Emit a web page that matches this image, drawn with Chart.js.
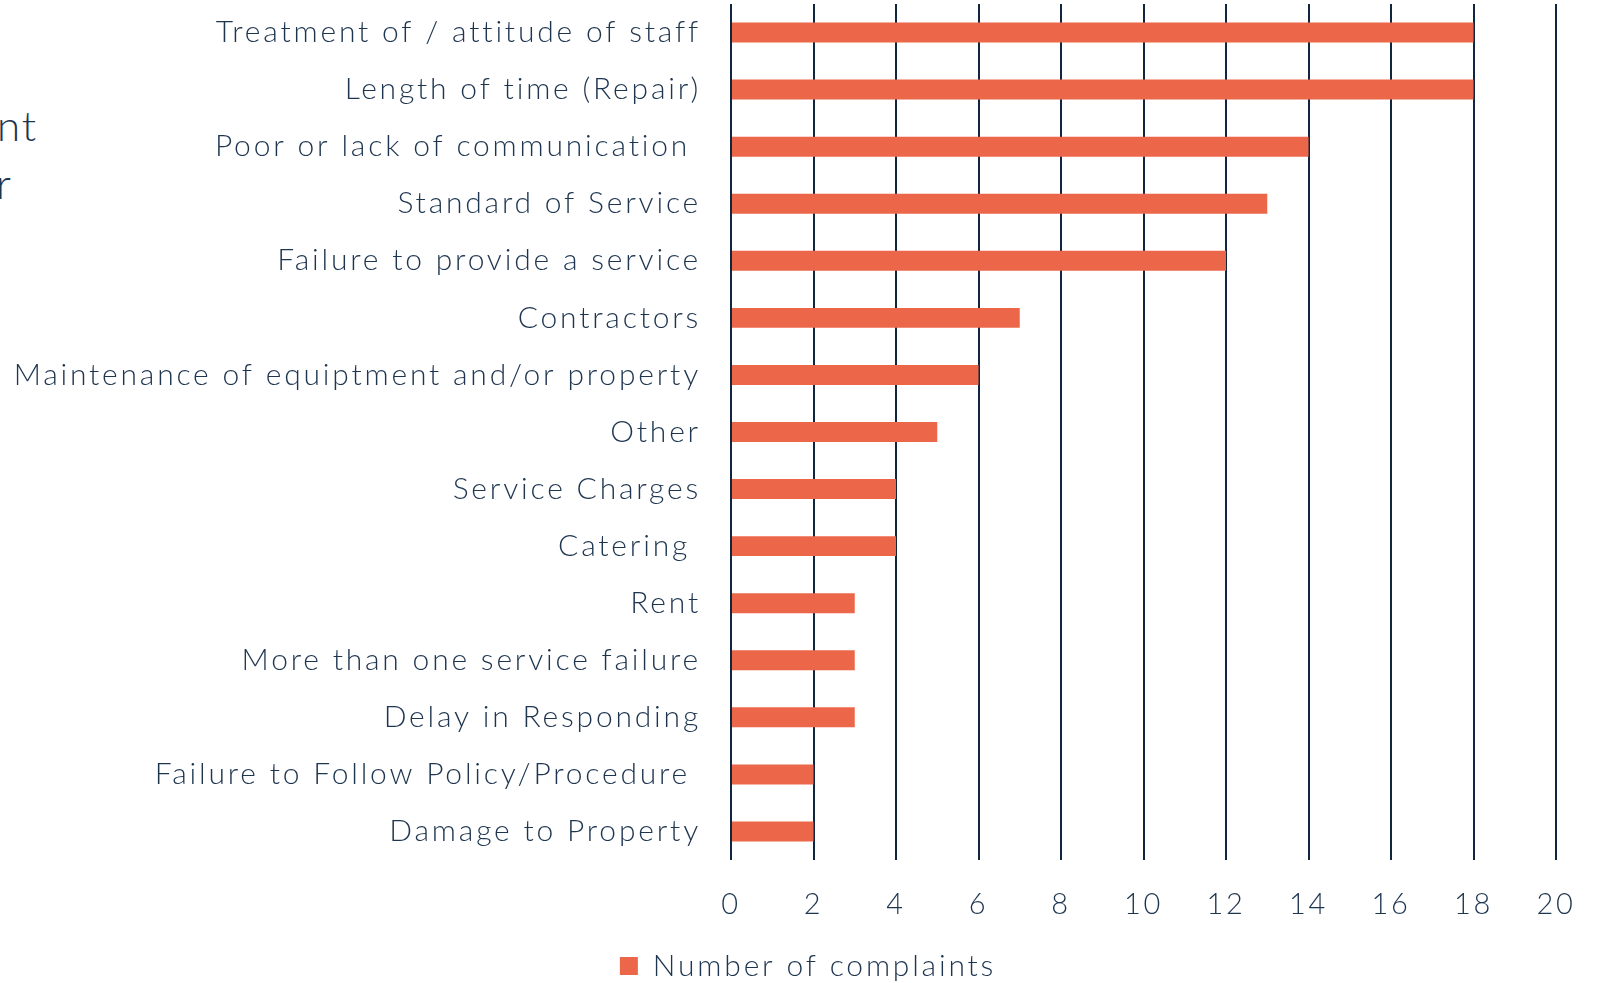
<!DOCTYPE html>
<html>
<head>
<meta charset="utf-8">
<script src="https://cdn.jsdelivr.net/npm/chart.js@4.4.0/dist/chart.umd.min.js"></script>
<style>
  html, body { margin: 0; padding: 0; background: #ffffff; overflow: hidden; }
  #wrap { position: relative; width: 1601px; height: 983px; }
  canvas { position: absolute; left: 0; top: 0; }
  .frag { position: absolute; font-family: Lato, sans-serif; font-weight: 300; font-size: 42px; color: #1e3550; white-space: nowrap; line-height: 1; letter-spacing: 2px; }
</style>
</head>
<body>
<div id="wrap">
  <div class="frag" style="left:-3px; top:104px;">nt</div>
  <div class="frag" style="left:-4px; top:162px;">r</div>
  <canvas id="c" width="1601" height="983"></canvas>
</div>
<script>
const categories = [
  "Treatment of / attitude of staff",
  "Length of time (Repair)",
  "Poor or lack of communication ",
  "Standard of Service",
  "Failure to provide a service",
  "Contractors",
  "Maintenance of equiptment and/or property",
  "Other",
  "Service Charges",
  "Catering ",
  "Rent",
  "More than one service failure",
  "Delay in Responding",
  "Failure to Follow Policy/Procedure ",
  "Damage to Property"
];
const complaints = [18, 18, 14, 13, 12, 7, 6, 5, 4, 4, 3, 3, 3, 2, 2];
const xTicks = [0, 2, 4, 6, 8, 10, 12, 14, 16, 18, 20];
const seriesName = "Number of complaints";

const NAVY = "#1e3550";
const GRID = "#0f2540";
const BAR = "#ec6649";
const FONT = "Lato, sans-serif";
const SPACING = "2.8px";

const spacingPlugin = {
  id: "spacing",
  beforeUpdate(chart) { chart.ctx.letterSpacing = SPACING; },
  beforeLayout(chart) { chart.ctx.letterSpacing = SPACING; },
  afterLayout(chart) {
    const lg = chart.legend;
    if (lg) { lg.left += 30; lg.right += 30; lg.top += 8; lg.bottom += 8; }
  },
  beforeDraw(chart) { chart.ctx.letterSpacing = SPACING; }
};

new Chart(document.getElementById("c"), {
  type: "bar",
  plugins: [spacingPlugin],
  data: {
    labels: categories,
    datasets: [{
      label: seriesName,
      data: complaints,
      backgroundColor: BAR,
      borderWidth: 0,
      barPercentage: 0.7,
      categoryPercentage: 0.5
    }]
  },
  options: {
    indexAxis: "y",
    responsive: false,
    animation: false,
    layout: { padding: { top: 4, right: 45, left: 0, bottom: 0 } },
    scales: {
      x: {
        min: 0, max: 20,
        afterBuildTicks: (s) => { s.ticks = xTicks.map(v => ({ value: v })); },
        grid: { color: GRID, lineWidth: 2, drawTicks: false },
        border: { display: false },
        ticks: { color: NAVY, font: { family: FONT, size: 29, weight: 300 }, padding: 27 },
        afterFit: (s) => { s.height = 73; s.paddingLeft = 0; s.paddingRight = 0; }
      },
      y: {
        grid: { display: false },
        border: { display: false },
        ticks: { color: NAVY, font: { family: FONT, size: 30, weight: 300 }, padding: 22, autoSkip: false },
        afterFit: (s) => { s.width = 731; s.paddingTop = 0; s.paddingBottom = 0; }
      }
    },
    plugins: {
      legend: {
        position: "bottom",
        labels: {
          color: NAVY,
          font: { family: FONT, size: 30, weight: 300 },
          boxWidth: 18, boxHeight: 18, padding: 10
        }
      },
      tooltip: { enabled: false }
    }
  }
});
</script>
</body>
</html>
